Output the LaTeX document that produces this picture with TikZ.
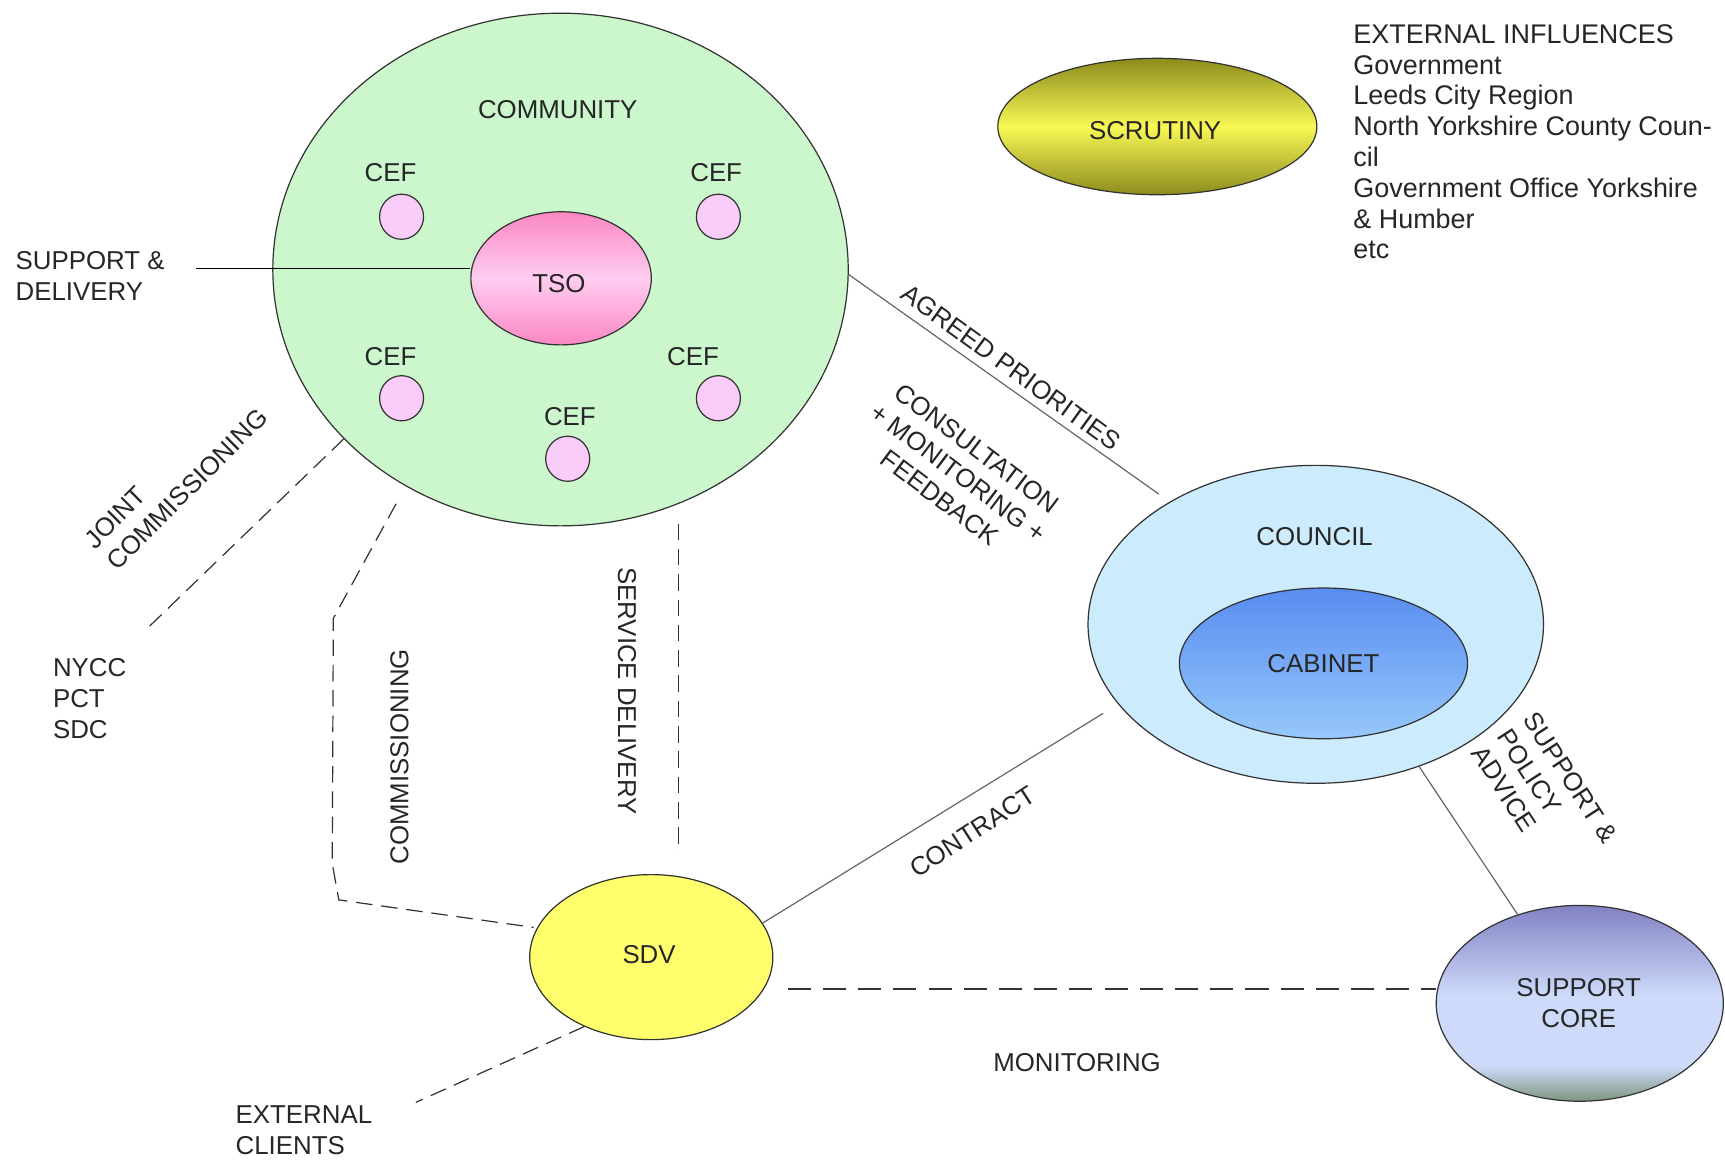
\documentclass[tikz,border=0pt]{standalone}
\usepackage{fontspec}
\setmainfont{Liberation Sans}
\usetikzlibrary{shapes.geometric,calc}
\definecolor{commfill}{RGB}{204,247,204}
\definecolor{ceffill}{RGB}{250,204,250}
\definecolor{tsodark}{RGB}{250,135,195}
\definecolor{tsolight}{RGB}{255,205,240}
\definecolor{scrdark}{RGB}{140,140,30}
\definecolor{scrlight}{RGB}{248,248,85}
\definecolor{councilfill}{RGB}{204,235,252}
\definecolor{cabtop}{RGB}{88,140,240}
\definecolor{cabbot}{RGB}{150,200,250}
\definecolor{sdvfill}{RGB}{255,255,110}
\definecolor{sctop}{RGB}{130,130,195}
\definecolor{scmid}{RGB}{205,218,250}
\definecolor{scbot}{RGB}{125,150,125}
\definecolor{edge}{RGB}{50,50,50}
\pgfdeclareverticalshading{supcoreshade}{100bp}{color(0bp)=(scbot); color(25bp)=(scbot); color(34bp)=(scmid); color(52bp)=(scmid); color(75bp)=(sctop); color(100bp)=(sctop)}
\begin{document}
\begin{tikzpicture}[x=1pt,y=-1pt,
  blob/.style={ellipse, draw=edge, line width=1.1pt, inner sep=0pt, font=\fontsize{23.5}{28}\selectfont, text=black!85},
  cefblob/.style={blob, fill=ceffill, minimum width=40pt, minimum height=41pt},
  lbl/.style={font=\fontsize{23.5}{28}\selectfont, inner sep=0pt, text=black!85},
  link/.style={line width=1.1pt, draw=black!60},
  dashline/.style={line width=1.1pt, draw=black!80, dash pattern=on 15pt off 8pt},
  longdash/.style={line width=1.1pt, draw=black!80, dash pattern=on 21pt off 11pt}]
\useasboundingbox (0,0) rectangle (1568,1054);

% community
\node[blob, fill=commfill, minimum width=523pt, minimum height=466pt] (comm) at (509.5,245) {};
\node[lbl] (commlbl) at (507,100) {COMMUNITY};
\node[cefblob] (cef1) at (365,197) {};
\node[cefblob] (cef2) at (653,197) {};
\node[cefblob] (cef3) at (365,362) {};
\node[cefblob] (cef4) at (653,362) {};
\node[cefblob] (cef5) at (516,417) {};
\node[lbl] (cef1l) at (355,157) {CEF};
\node[lbl] (cef2l) at (651,157) {CEF};
\node[lbl] (cef3l) at (355,324) {CEF};
\node[lbl] (cef4l) at (630,324) {CEF};
\node[lbl] (cef5l) at (518,379) {CEF};
\node[blob, top color=tsodark, bottom color=tsodark, middle color=tsolight, minimum width=164pt, minimum height=121pt] (tso) at (510,253) {};
\node[lbl] (tsolbl) at (508,258) {TSO};

% scrutiny
\node[blob, top color=scrdark, bottom color=scrdark, middle color=scrlight, minimum width=290pt, minimum height=124pt] (scr) at (1052,115) {};
\node[lbl] (scrlbl) at (1050,119) {SCRUTINY};

% external influences
\node[lbl, font=\fontsize{24.5}{28}\selectfont, anchor=north west, align=left] (ext) at (1230,22) {EXTERNAL INFLUENCES\\Government\\Leeds City Region\\North Yorkshire County Coun-\\cil\\Government Office Yorkshire\\\& Humber\\etc};

% council
\node[blob, fill=councilfill, minimum width=414pt, minimum height=289pt] (council) at (1196,567.5) {};
\node[lbl] (councillbl) at (1195,488) {COUNCIL};
\node[blob, top color=cabtop, bottom color=cabbot, minimum width=262pt, minimum height=137pt] (cab) at (1203,603) {CABINET};

% sdv
\node[blob, fill=sdvfill, minimum width=221pt, minimum height=150pt] (sdv) at (592,870) {};
\node[lbl] (sdvlbl) at (590,868) {SDV};

% support core
\node[blob, shading=supcoreshade, shade, minimum width=261pt, minimum height=178pt] (supc) at (1436,912) {};
\node[lbl, align=center] (supclbl) at (1435,912) {SUPPORT\\CORE};

% connectors
\draw[link, shorten >=12pt] (comm.-1) -- (council.140);
\draw[link, shorten >=16pt] (sdv.17) -- (council.202);
\draw[link] (council.-54) -- (supc.125);
\coordinate (sdlstart) at (178,244);
\draw[line width=1.3pt, black] (sdlstart) -- (tso.west |- sdlstart);
\draw[longdash] ([xshift=13pt,yshift=-29pt]sdv.east) coordinate (mstart) -- (supc.west |- mstart);
\draw[dashline] ($(comm.center)+(107.5,231)$) -- ($(sdv.center)+(25,-95)$);
\draw[dashline] ($(comm.center)+(-149.5,213)$) -- (303,562) -- (302,785) -- (308,818) -- ($(sdv.center)+(-107,-27)$);
\coordinate (jcend) at (132,573);
\draw[dashline] (comm.-142.6) -- (jcend);
\coordinate (ecend) at (378,1002);
\draw[dashline] (sdv.226) -- (ecend);

% labels
\node[lbl, rotate=-36] (agreed) at (919,334) {AGREED PRIORITIES};
\node[lbl, rotate=-37, align=center] (consult) at (871,430) {CONSULTATION\\+ MONITORING +\\FEEDBACK};
\node[lbl, rotate=33] (contract) at (884,756) {CONTRACT};
\node[lbl, rotate=-57, align=left] (spa) at (1404,722) {SUPPORT \&\\POLICY\\ADVICE};
\node[lbl, rotate=-90] (sdlbl) at (570,628) {SERVICE DELIVERY};
\node[lbl, rotate=90] (comlbl) at (363,688) {COMMISSIONING};
\node[lbl, rotate=45, align=left] (jclbl) at (160,435) {JOINT\\COMMISSIONING};
\node[lbl] (mon) at (979,966) {MONITORING};
\node[lbl, anchor=west, align=left] (nycc) at (48,635) {NYCC\\PCT\\SDC};
\node[lbl, anchor=west, align=left] (ec) at (214,1027) {EXTERNAL\\CLIENTS};
\node[lbl, anchor=west, align=left] (sdlab) at (14,251) {SUPPORT \&\\DELIVERY};
\end{tikzpicture}
\end{document}
